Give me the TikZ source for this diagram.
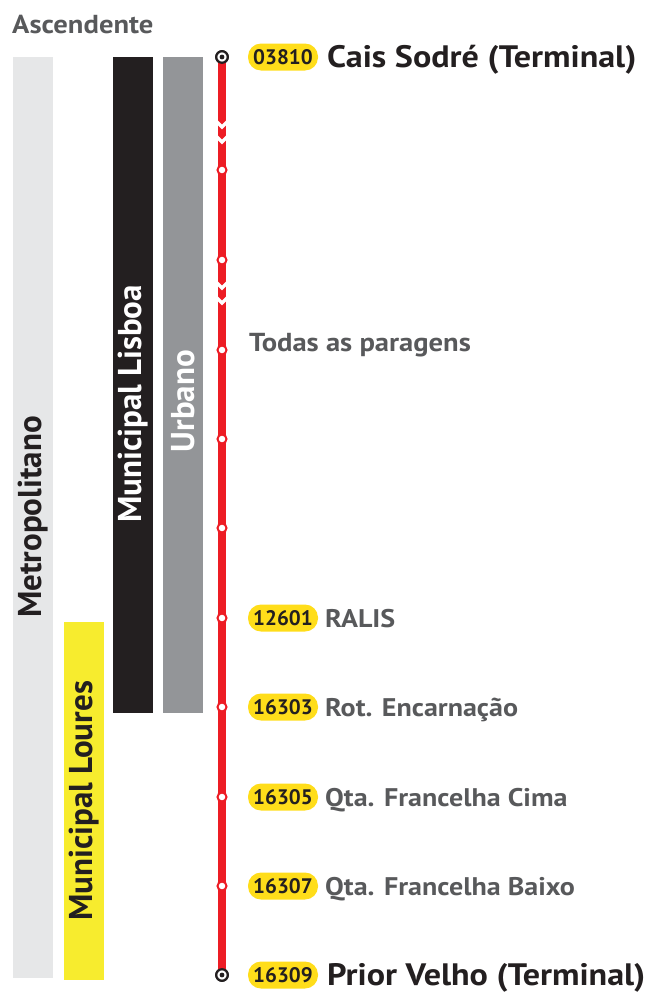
\documentclass[tikz,border=0pt]{standalone}
\usepackage{fontspec}
\setmainfont{PT Sans}[FakeStretch=1.1]
\newfontfamily\vfont{PT Sans}
\definecolor{linered}{HTML}{ED1C24}
\definecolor{pillyel}{HTML}{FFDD1A}
\definecolor{loures}{HTML}{F7EC2E}
\definecolor{darktxt}{HTML}{231F20}
\definecolor{graytxt}{HTML}{58595B}
\definecolor{metrogray}{HTML}{E6E7E8}
\definecolor{urbgray}{HTML}{939598}
\begin{document}
\begin{tikzpicture}[x=1pt,y=-1pt,
  pill/.style={fill=pillyel, rounded corners=13pt, minimum width=70pt, minimum height=27pt, inner sep=0pt,
     text=darktxt, font=\vfont\bfseries\fontsize{21}{21}\selectfont},
  stopname/.style={anchor=base west, inner sep=0pt, text=graytxt, font=\bfseries\fontsize{25.5}{25.5}\selectfont},
  termname/.style={anchor=base west, inner sep=0pt, text=darktxt, font=\bfseries\fontsize{31}{31}\selectfont},
  vlabel/.style={rotate=90, inner sep=0pt, font=\vfont\bfseries\fontsize{33}{33}\selectfont},
  stopdot/.style={circle, fill=white, draw=linered, line width=2pt, minimum size=9pt, inner sep=0pt},
  termdot/.style={circle, fill=white, draw=darktxt, line width=2.2pt, minimum size=11.5pt, inner sep=0pt},
  chev/.style={draw=white, line width=3.5pt}
]
\useasboundingbox (0,0) rectangle (652,993);
% header
\node[anchor=base west, inner sep=0pt, text=graytxt, font=\bfseries\fontsize{26}{26}\selectfont] (title) at (12,33) {Ascendente};
% bars
\fill[metrogray] (13,57) rectangle (53,978);
\fill[loures] (64,622) rectangle (104,980);
\fill[darktxt] (113,57) rectangle (153,713);
\fill[urbgray] (163,57) rectangle (203,713);
\node[vlabel, text=darktxt] (metro) at (33,517) {Metropolitano};
\node[vlabel, text=darktxt] (lour) at (84,801) {Municipal Loures};
\node[vlabel, text=white] (lisb) at (133,404) {Municipal Lisboa};
\node[vlabel, text=white] (urb) at (183,401) {Urbano};
% terminals
\node[termdot] (tA) at (222,57) {};
\node[termdot] (tB) at (222,975) {};
% line
\draw[linered, line width=8pt] (tA.center) -- (tB.center);
% chevrons
\foreach \cy in {121,136,282,297}{
  \begin{scope}
    \clip (218,\cy-4) rectangle (226,\cy+11);
    \draw[chev] (216,\cy) -- (222,\cy+6) -- (228,\cy);
  \end{scope}
}
% stops without label
\foreach \sy/\nm in {170/s1,260/s2,350/s3,439/s4,528/s5}{
  \node[stopdot] (\nm) at (222,\sy) {};
}
% terminal dots on top
\node[termdot] (tA2) at (222,57) {};
\fill[darktxt] (tA2.center) circle (2.4pt);
\node[termdot] (tB2) at (222,975) {};
\fill[darktxt] (tB2.center) circle (2.4pt);
% labelled stops
\foreach \sy/\code/\nm/\lab in {618/12601/s6/RALIS, 707/16303/s7/{Rot. Encarnação}, 797/16305/s8/{Qta. Francelha Cima}, 886/16307/s9/{Qta. Francelha Baixo}}{
  \node[stopdot] (\nm) at (222,\sy) {};
  \node[pill] (p\nm) at (283,\sy) {\code};
  \node[stopname] (n\nm) at (325,\sy+9) {\lab};
}
\node[pill] (pA) at (283,57) {03810};
\node[termname] (nA) at (327,67) {Cais Sodré (Terminal)};
\node[pill] (pB) at (283,975) {16309};
\node[termname] (nB) at (327,985) {Prior Velho (Terminal)};
\node[anchor=base west, inner sep=0pt, text=graytxt, font=\bfseries\fontsize{26}{26}\selectfont] (todas) at (249,351) {Todas as paragens};
\end{tikzpicture}
\end{document}
